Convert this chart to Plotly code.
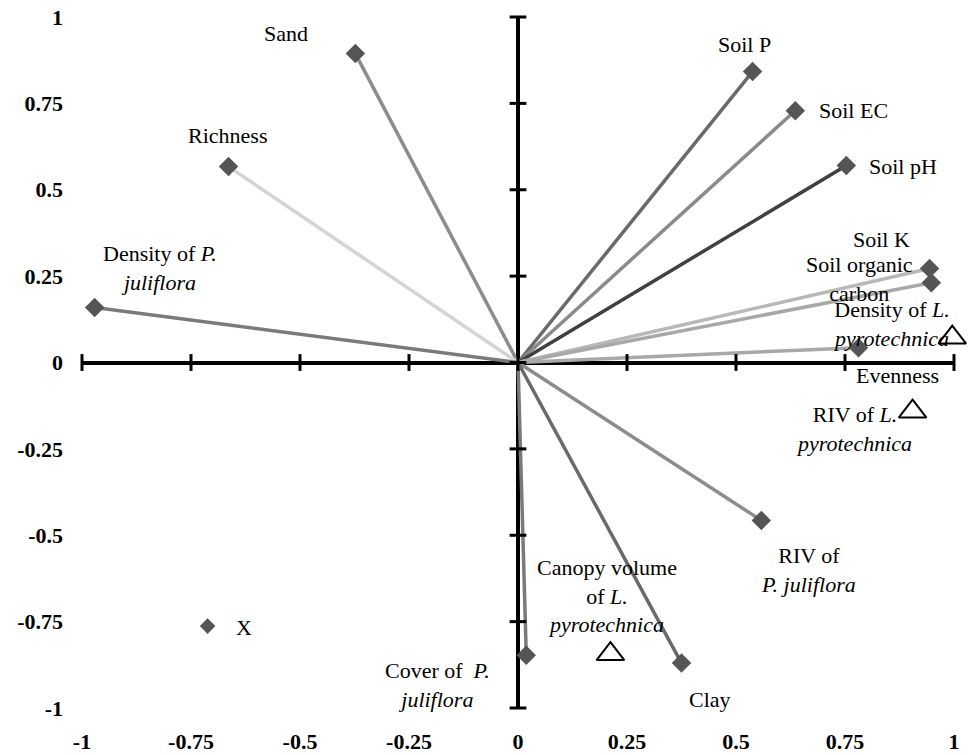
import plotly.graph_objects as go

# Loadings of soil and vegetation variables (vectors drawn from the origin)
vec_names = ["Sand", "Richness", "Density of P. juliflora", "Soil P", "Soil EC",
             "Soil pH", "Soil K", "Soil organic carbon", "Evenness",
             "RIV of P. juliflora", "Clay", "Cover of P. juliflora"]
vec_x = [-0.373, -0.664, -0.971, 0.538, 0.636, 0.753, 0.944, 0.948, 0.781, 0.558, 0.375, 0.019]
vec_y = [0.894, 0.567, 0.159, 0.842, 0.729, 0.570, 0.272, 0.231, 0.043, -0.457, -0.870, -0.847]

# Passive variables shown as open triangles
tri_names = ["Density of L. pyrotechnica", "RIV of L. pyrotechnica",
             "Canopy volume of L. pyrotechnica"]
tri_x = [0.996, 0.905, 0.212]
tri_y = [0.072, -0.142, -0.844]

# Separate point
pt_name = "X"
pt_x = [-0.712]
pt_y = [-0.763]

tick_vals = [-1, -0.75, -0.5, -0.25, 0, 0.25, 0.5, 0.75, 1]
tick_text = ["-1", "-0.75", "-0.5", "-0.25", "0", "0.25", "0.5", "0.75", "1"]

# Styling
vec_colors = ["#8c8c8c", "#d4d4d4", "#7a7a7a", "#6a6a6a", "#8a8a8a", "#404040",
              "#b8b8b8", "#a8a8a8", "#a8a8a8", "#8c8c8c", "#6a6a6a", "#7a7a7a"]
vec_labels = ["Sand", "Richness", "Density of <i>P.</i><br><i>juliflora</i>",
              "Soil P", "Soil EC", "Soil pH", "Soil K", "Soil organic<br>carbon",
              "Evenness", "RIV of<br><i>P. juliflora</i>", "Clay",
              "Cover of  <i>P.</i><br><i>juliflora</i>"]
vec_dx = [-69, -1, 65, -8, 58, 57, -48, -72, 39, 47, 28, -89]
vec_dy = [20, 31, 40, 27, 0, -1, 29, 4, -28, -50, -36, -30]

tri_labels = ["Density of <i>L.</i><br><i>pyrotechnica</i>",
              "RIV of <i>L.</i><br><i>pyrotechnica</i>",
              "Canopy volume<br>of <i>L.</i><br><i>pyrotechnica</i>"]
tri_dx = [-61, -59, -3]
tri_dy = [14, -17, 58]

pt_dx, pt_dy = 36, -1

FONT = "Liberation Serif, Times New Roman, serif"
MARK = "#555555"

fig = go.Figure()

# Vectors from the origin
for name, x, y, c in zip(vec_names, vec_x, vec_y, vec_colors):
    fig.add_trace(go.Scatter(x=[0, x], y=[0, y], mode="lines", name=name,
                             line=dict(color=c, width=3.5), cliponaxis=False,
                             hoverinfo="skip", showlegend=False))

# Tick marks crossing the central axes
fig.add_trace(go.Scatter(x=tick_vals, y=[0] * len(tick_vals), mode="markers",
                         marker=dict(symbol="line-ns", size=12,
                                     line=dict(color="black", width=3)),
                         cliponaxis=False, hoverinfo="skip", showlegend=False))
fig.add_trace(go.Scatter(x=[0] * len(tick_vals), y=tick_vals, mode="markers",
                         marker=dict(symbol="line-ew", size=12,
                                     line=dict(color="black", width=3)),
                         cliponaxis=False, hoverinfo="skip", showlegend=False))

# Vector end points
fig.add_trace(go.Scatter(x=vec_x, y=vec_y, mode="markers", text=vec_names,
                         marker=dict(symbol="diamond", size=15, color=MARK),
                         cliponaxis=False, showlegend=False))

# Triangles
fig.add_trace(go.Scatter(x=tri_x, y=tri_y, mode="markers", text=tri_names,
                         marker=dict(symbol="triangle-up-open", size=24,
                                     color="black", line=dict(width=2)),
                         cliponaxis=False, showlegend=False))

# Single point
fig.add_trace(go.Scatter(x=pt_x, y=pt_y, mode="markers", text=[pt_name],
                         marker=dict(symbol="diamond", size=12, color=MARK),
                         cliponaxis=False, showlegend=False))

annotations = []
for x, y, t, dx, dy in zip(vec_x, vec_y, vec_labels, vec_dx, vec_dy):
    annotations.append(dict(x=x, y=y, text=t, xshift=dx, yshift=dy))
for x, y, t, dx, dy in zip(tri_x, tri_y, tri_labels, tri_dx, tri_dy):
    annotations.append(dict(x=x, y=y, text=t, xshift=dx, yshift=dy))
annotations.append(dict(x=pt_x[0], y=pt_y[0], text=pt_name, xshift=pt_dx, yshift=pt_dy))
for a in annotations:
    a.update(xref="x", yref="y", showarrow=False, align="center",
             font=dict(family=FONT, size=22, color="black"))

axis_common = dict(range=[-1, 1], tickvals=tick_vals, ticktext=tick_text,
                   showgrid=False, showline=False, ticks="", automargin=False,
                   zeroline=True, zerolinecolor="black", zerolinewidth=4,
                   tickfont=dict(family=FONT, size=22, color="black", weight="bold"))

fig.update_layout(
    width=972, height=755,
    margin=dict(l=82, r=18, t=17, b=47),
    paper_bgcolor="white", plot_bgcolor="white",
    xaxis=dict(**axis_common, ticklabelstandoff=18),
    yaxis=dict(**axis_common, ticklabelstandoff=18),
    annotations=annotations,
    showlegend=False,
)

fig.write_html("out.html")
